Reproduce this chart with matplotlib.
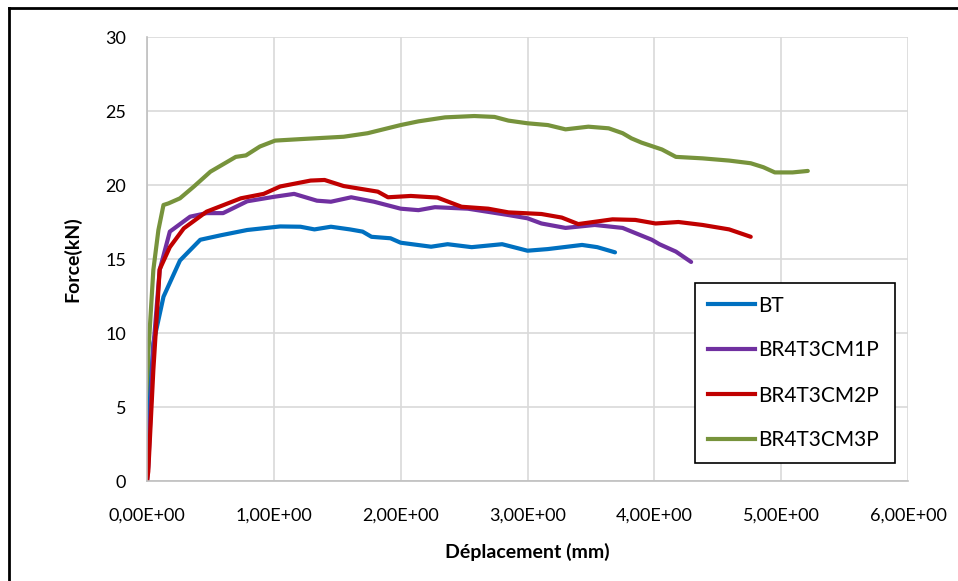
import matplotlib
matplotlib.use("Agg")
import matplotlib.pyplot as plt
from matplotlib.lines import Line2D

# ---- data (Déplacement mm, Force kN) ----
bt_x = [0.0, 0.02, 0.05, 0.13, 0.26, 0.42, 0.58, 0.79, 1.05, 1.21, 1.32, 1.45, 1.60, 1.70, 1.77,
        1.92, 2.0, 2.24, 2.37, 2.56, 2.80, 3.0, 3.16, 3.43, 3.55, 3.69]
bt_y = [0.0, 5.0, 9.3, 12.45, 14.9, 16.3, 16.6, 16.96, 17.2, 17.18, 17.0, 17.18, 17.0, 16.85, 16.5,
        16.4, 16.1, 15.83, 16.0, 15.8, 16.0, 15.56, 15.67, 15.95, 15.8, 15.45]

m1_x = [0.0, 0.01, 0.05, 0.10, 0.18, 0.34, 0.47, 0.60, 0.79, 1.0, 1.16, 1.34, 1.45, 1.61, 1.79,
        2.0, 2.14, 2.27, 2.53, 2.85, 3.0, 3.11, 3.30, 3.53, 3.75, 3.98, 4.04, 4.17, 4.29]
m1_y = [0.0, 1.0, 9.0, 14.26, 16.85, 17.86, 18.1, 18.1, 18.9, 19.2, 19.4, 18.94, 18.87, 19.17, 18.87,
        18.4, 18.3, 18.5, 18.4, 17.97, 17.75, 17.4, 17.1, 17.3, 17.1, 16.3, 16.0, 15.5, 14.8]

m2_x = [0.0, 0.01, 0.05, 0.10, 0.18, 0.29, 0.47, 0.74, 0.92, 1.05, 1.29, 1.40, 1.55, 1.82, 1.90,
        2.08, 2.29, 2.48, 2.69, 2.85, 3.11, 3.27, 3.40, 3.67, 3.85, 4.01, 4.19, 4.38, 4.59, 4.76]
m2_y = [0.0, 0.63, 7.5, 14.3, 15.8, 17.07, 18.2, 19.1, 19.4, 19.9, 20.3, 20.34, 19.93, 19.55, 19.17,
        19.26, 19.15, 18.53, 18.4, 18.15, 18.04, 17.8, 17.36, 17.68, 17.64, 17.4, 17.5, 17.3, 17.0, 16.5]

m3_x = [0.0, 0.01, 0.05, 0.09, 0.13, 0.17, 0.26, 0.37, 0.50, 0.54, 0.70, 0.78, 0.89, 1.01, 1.21,
        1.55, 1.74, 2.0, 2.14, 2.35, 2.58, 2.74, 2.85, 3.0, 3.16, 3.30, 3.48, 3.64, 3.75, 3.82,
        3.90, 4.06, 4.17, 4.38, 4.59, 4.76, 4.86, 4.95, 5.09, 5.21]
m3_y = [0.0, 8.6, 14.26, 16.96, 18.65, 18.76, 19.1, 19.9, 20.9, 21.1, 21.9, 22.0, 22.6, 23.0, 23.1,
        23.26, 23.5, 24.05, 24.3, 24.57, 24.66, 24.6, 24.35, 24.17, 24.05, 23.76, 23.94, 23.83, 23.5, 23.15,
        22.86, 22.4, 21.9, 21.8, 21.65, 21.47, 21.2, 20.85, 20.85, 20.95]

series_names = ["BT", "BR4T3CM1P", "BR4T3CM2P", "BR4T3CM3P"]
series_colors = ["#0070C0", "#7030A0", "#C00000", "#77933C"]
x_ticks = [0, 1, 2, 3, 4, 5, 6]
x_tick_labels = ["0,00E+00", "1,00E+00", "2,00E+00", "3,00E+00", "4,00E+00", "5,00E+00", "6,00E+00"]
y_ticks = [0, 5, 10, 15, 20, 25, 30]

plt.rcParams["font.family"] = ["Lato", "DejaVu Sans"]

fig = plt.figure(figsize=(9.58, 5.81), dpi=100)
ax = fig.add_axes([147 / 958, 1 - 481 / 581, (908 - 147) / 958, (481 - 37) / 581])

data = [(bt_x, bt_y), (m1_x, m1_y), (m2_x, m2_y), (m3_x, m3_y)]
# draw order: green first, so others appear on top like reference
order = [3, 0, 1, 2]
for i in order:
    xs, ys = data[i]
    ax.plot(xs, ys, color=series_colors[i], lw=3.0, solid_capstyle="round",
            solid_joinstyle="round", label=series_names[i])

ax.set_xlim(0, 6)
ax.set_ylim(0, 30)
ax.set_xticks(x_ticks)
ax.set_xticklabels(x_tick_labels)
ax.set_yticks(y_ticks)
ax.grid(True, color="#d9d9d9", lw=1.2)
ax.set_axisbelow(True)
for s in ["top", "right"]:
    ax.spines[s].set_visible(False)
for s in ["left", "bottom"]:
    ax.spines[s].set_color("#bfbfbf")
    ax.spines[s].set_linewidth(1.2)
ax.tick_params(length=0, labelsize=13, colors="black")
ax.tick_params(axis="x", pad=19)
ax.tick_params(axis="y", pad=15)

ax.set_xlabel("Déplacement (mm)", fontsize=14, fontweight="bold", labelpad=14)
ax.set_ylabel("Force(kN)", fontsize=14, fontweight="bold", labelpad=17)

handles = [Line2D([0], [0], color=c, lw=3) for c in series_colors]
leg = ax.legend(handles, series_names, loc="upper left",
                bbox_to_anchor=((695 - 147) / 761, (481 - 283) / 444, (895 - 695) / 761, 0.0),
                mode="expand", fontsize=15, frameon=True, fancybox=False,
                edgecolor="black", framealpha=1, labelspacing=1.2, handlelength=2.3,
                handletextpad=0.15, borderpad=0.6, borderaxespad=0)
leg.get_frame().set_linewidth(1.2)

# outer chart border (left and top visible)
fig.add_artist(Line2D([9 / 958, 9 / 958], [0, 1 - 8 / 581], color="black", lw=2, transform=fig.transFigure))
fig.add_artist(Line2D([9 / 958, 1], [1 - 8 / 581, 1 - 8 / 581], color="black", lw=2, transform=fig.transFigure))

fig.savefig("out.png", dpi=100)
